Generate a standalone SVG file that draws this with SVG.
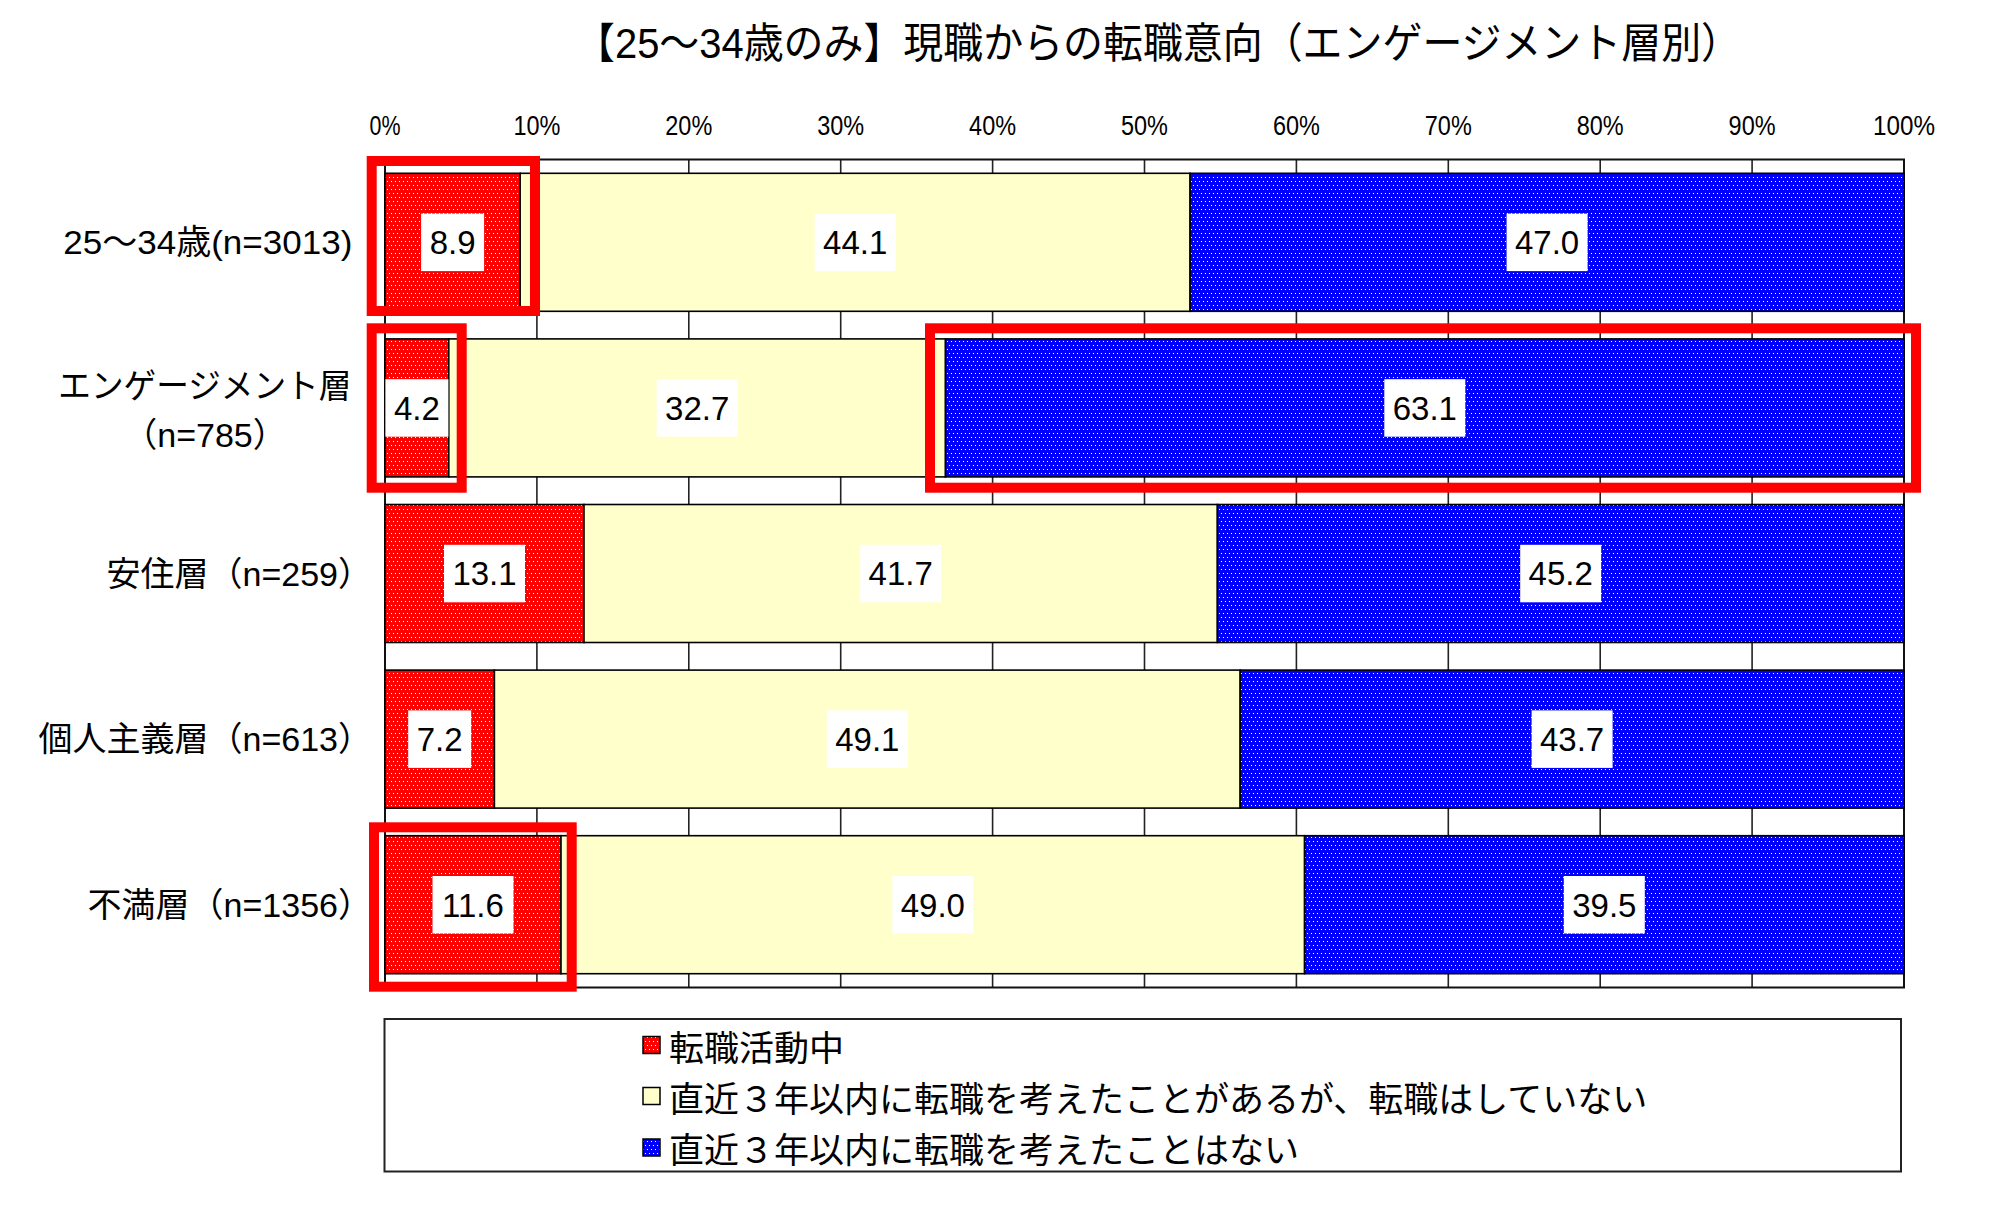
<svg xmlns="http://www.w3.org/2000/svg" width="2003" height="1224" viewBox="0 0 2003 1224">
<style>
.t{font-family:"Liberation Sans","Noto Sans CJK JP",sans-serif;fill:#000}
.cj{font-family:"Noto Sans CJK JP",sans-serif;fill:#000}
.title{font-size:42px}
.ax{font-size:27px;text-anchor:middle}
.cat{font-size:34px}
.lbl{font-size:33px;text-anchor:middle}
.leg{font-size:35px}
.grid{stroke:#222;stroke-width:1.6}
.seg{stroke:#000;stroke-width:1.6}
.lb{fill:#fff}
.hl{fill:none;stroke:#FF0000;stroke-width:10}
</style>
<defs>
<pattern id="pR" width="8" height="8" patternUnits="userSpaceOnUse"><rect width="8" height="8" fill="#FF0000"/><rect x="1" y="1" width="1" height="1" fill="#fff"/><rect x="5" y="1" width="1" height="1" fill="#fff"/><rect x="3" y="5" width="1" height="1" fill="#fff"/><rect x="7" y="5" width="1" height="1" fill="#fff"/></pattern>
<pattern id="pB" width="8" height="8" patternUnits="userSpaceOnUse"><rect width="8" height="8" fill="#0000FF"/><rect x="1" y="1" width="1" height="1" fill="#fff"/><rect x="5" y="1" width="1" height="1" fill="#fff"/><rect x="3" y="5" width="1" height="1" fill="#fff"/><rect x="7" y="5" width="1" height="1" fill="#fff"/></pattern>
</defs>
<rect width="2003" height="1224" fill="#fff"/>

<text id="title" class="t title" x="575" y="43" dominant-baseline="central" textLength="1166" lengthAdjust="spacingAndGlyphs">【25～34歳のみ】現職からの転職意向（エンゲージメント層別）</text>

<g id="axis-labels" class="t ax">
<text x="385" y="135" textLength="31" lengthAdjust="spacingAndGlyphs">0%</text>
<text x="536.9" y="135" textLength="47" lengthAdjust="spacingAndGlyphs">10%</text>
<text x="688.8" y="135" textLength="47" lengthAdjust="spacingAndGlyphs">20%</text>
<text x="840.7" y="135" textLength="47" lengthAdjust="spacingAndGlyphs">30%</text>
<text x="992.6" y="135" textLength="47" lengthAdjust="spacingAndGlyphs">40%</text>
<text x="1144.5" y="135" textLength="47" lengthAdjust="spacingAndGlyphs">50%</text>
<text x="1296.4" y="135" textLength="47" lengthAdjust="spacingAndGlyphs">60%</text>
<text x="1448.3" y="135" textLength="47" lengthAdjust="spacingAndGlyphs">70%</text>
<text x="1600.2" y="135" textLength="47" lengthAdjust="spacingAndGlyphs">80%</text>
<text x="1752.1" y="135" textLength="47" lengthAdjust="spacingAndGlyphs">90%</text>
<text x="1904" y="135" textLength="62" lengthAdjust="spacingAndGlyphs">100%</text>
</g>

<g id="grid">
<line class="grid" x1="536.9" y1="159.5" x2="536.9" y2="987.5"/>
<line class="grid" x1="688.8" y1="159.5" x2="688.8" y2="987.5"/>
<line class="grid" x1="840.7" y1="159.5" x2="840.7" y2="987.5"/>
<line class="grid" x1="992.6" y1="159.5" x2="992.6" y2="987.5"/>
<line class="grid" x1="1144.5" y1="159.5" x2="1144.5" y2="987.5"/>
<line class="grid" x1="1296.4" y1="159.5" x2="1296.4" y2="987.5"/>
<line class="grid" x1="1448.3" y1="159.5" x2="1448.3" y2="987.5"/>
<line class="grid" x1="1600.2" y1="159.5" x2="1600.2" y2="987.5"/>
<line class="grid" x1="1752.1" y1="159.5" x2="1752.1" y2="987.5"/>
<rect x="385" y="159.5" width="1519" height="828" fill="none" stroke="#111" stroke-width="2"/>
</g>

<g id="cat-labels" class="t cat">
<text x="63.3" y="242.3" dominant-baseline="central" textLength="289" lengthAdjust="spacingAndGlyphs">25～34歳(n=3013)</text>
<text x="58.3" y="386" dominant-baseline="central" textLength="293" lengthAdjust="spacingAndGlyphs">エンゲージメント層</text>
<text x="205" y="435" text-anchor="middle" dominant-baseline="central">（n=785）</text>
<text x="372" y="573.5" text-anchor="end" dominant-baseline="central">安住層（n=259）</text>
<text x="372" y="739.1" text-anchor="end" dominant-baseline="central">個人主義層（n=613）</text>
<text x="372" y="904.7" text-anchor="end" dominant-baseline="central">不満層（n=1356）</text>
</g>

<g id="row1">
<rect class="seg" x="385" y="173.3" width="135.2" height="138" fill="url(#pR)"/>
<rect class="seg" x="520.2" y="173.3" width="669.9" height="138" fill="#FFFFCC"/>
<rect class="seg" x="1190.1" y="173.3" width="713.9" height="138" fill="url(#pB)"/>
<rect class="lb" x="421.1" y="213.6" width="63" height="57.5"/>
<rect class="lb" x="814.7" y="213.6" width="81" height="57.5"/>
<rect class="lb" x="1506.6" y="213.6" width="81" height="57.5"/>
<text class="t lbl" x="452.6" y="254.1">8.9</text>
<text class="t lbl" x="855.2" y="254.1">44.1</text>
<text class="t lbl" x="1547.1" y="254.1">47.0</text>
</g>

<g id="row2">
<rect class="seg" x="385" y="338.9" width="63.8" height="138" fill="url(#pR)"/>
<rect class="seg" x="448.8" y="338.9" width="496.7" height="138" fill="#FFFFCC"/>
<rect class="seg" x="945.5" y="338.9" width="958.5" height="138" fill="url(#pB)"/>
<rect class="lb" x="385.4" y="379.2" width="63" height="57.5"/>
<rect class="lb" x="656.7" y="379.2" width="81" height="57.5"/>
<rect class="lb" x="1384.3" y="379.2" width="81" height="57.5"/>
<text class="t lbl" x="416.9" y="419.7">4.2</text>
<text class="t lbl" x="697.2" y="419.7">32.7</text>
<text class="t lbl" x="1424.8" y="419.7">63.1</text>
</g>

<g id="row3">
<rect class="seg" x="385" y="504.5" width="199" height="138" fill="url(#pR)"/>
<rect class="seg" x="584" y="504.5" width="633.4" height="138" fill="#FFFFCC"/>
<rect class="seg" x="1217.4" y="504.5" width="686.6" height="138" fill="url(#pB)"/>
<rect class="lb" x="444" y="544.8" width="81" height="57.5"/>
<rect class="lb" x="860.2" y="544.8" width="81" height="57.5"/>
<rect class="lb" x="1520.2" y="544.8" width="81" height="57.5"/>
<text class="t lbl" x="484.5" y="585.3">13.1</text>
<text class="t lbl" x="900.7" y="585.3">41.7</text>
<text class="t lbl" x="1560.7" y="585.3">45.2</text>
</g>

<g id="row4">
<rect class="seg" x="385" y="670.1" width="109.4" height="138" fill="url(#pR)"/>
<rect class="seg" x="494.4" y="670.1" width="745.8" height="138" fill="#FFFFCC"/>
<rect class="seg" x="1240.2" y="670.1" width="663.8" height="138" fill="url(#pB)"/>
<rect class="lb" x="408.2" y="710.4" width="63" height="57.5"/>
<rect class="lb" x="826.8" y="710.4" width="81" height="57.5"/>
<rect class="lb" x="1531.6" y="710.4" width="81" height="57.5"/>
<text class="t lbl" x="439.7" y="750.9">7.2</text>
<text class="t lbl" x="867.3" y="750.9">49.1</text>
<text class="t lbl" x="1572.1" y="750.9">43.7</text>
</g>

<g id="row5">
<rect class="seg" x="385" y="835.7" width="176" height="138" fill="url(#pR)"/>
<rect class="seg" x="561" y="835.7" width="743.6" height="138" fill="#FFFFCC"/>
<rect class="seg" x="1304.6" y="835.7" width="599.4" height="138" fill="url(#pB)"/>
<rect class="lb" x="432.5" y="876" width="81" height="57.5"/>
<rect class="lb" x="892.3" y="876" width="81" height="57.5"/>
<rect class="lb" x="1563.8" y="876" width="81" height="57.5"/>
<text class="t lbl" x="473" y="916.5">11.6</text>
<text class="t lbl" x="932.8" y="916.5">49.0</text>
<text class="t lbl" x="1604.3" y="916.5">39.5</text>
</g>

<g id="highlights">
<rect class="hl" x="371.7" y="161" width="163.3" height="150"/>
<rect class="hl" x="371.7" y="328.3" width="90" height="159.4"/>
<rect class="hl" x="930" y="328.3" width="986" height="159.4"/>
<rect class="hl" x="374" y="827.3" width="197.7" height="159.4"/>
</g>

<g id="legend">
<rect x="384.5" y="1019" width="1516.5" height="152.5" fill="#fff" stroke="#222" stroke-width="2"/>
<rect x="643" y="1036.5" width="17" height="17" fill="url(#pR)" stroke="#000" stroke-width="1.5"/>
<rect x="643" y="1087.5" width="17" height="17" fill="#FFFFCC" stroke="#000" stroke-width="1.5"/>
<rect x="643" y="1139" width="17" height="17" fill="url(#pB)" stroke="#000" stroke-width="1.5"/>
<text class="cj leg" x="669" y="1045" dominant-baseline="central">転職活動中</text>
<text class="cj leg" x="669" y="1096" dominant-baseline="central">直近３年以内に転職を考えたことがあるが、転職はしていない</text>
<text class="cj leg" x="669" y="1147.5" dominant-baseline="central">直近３年以内に転職を考えたことはない</text>
</g>
</svg>
